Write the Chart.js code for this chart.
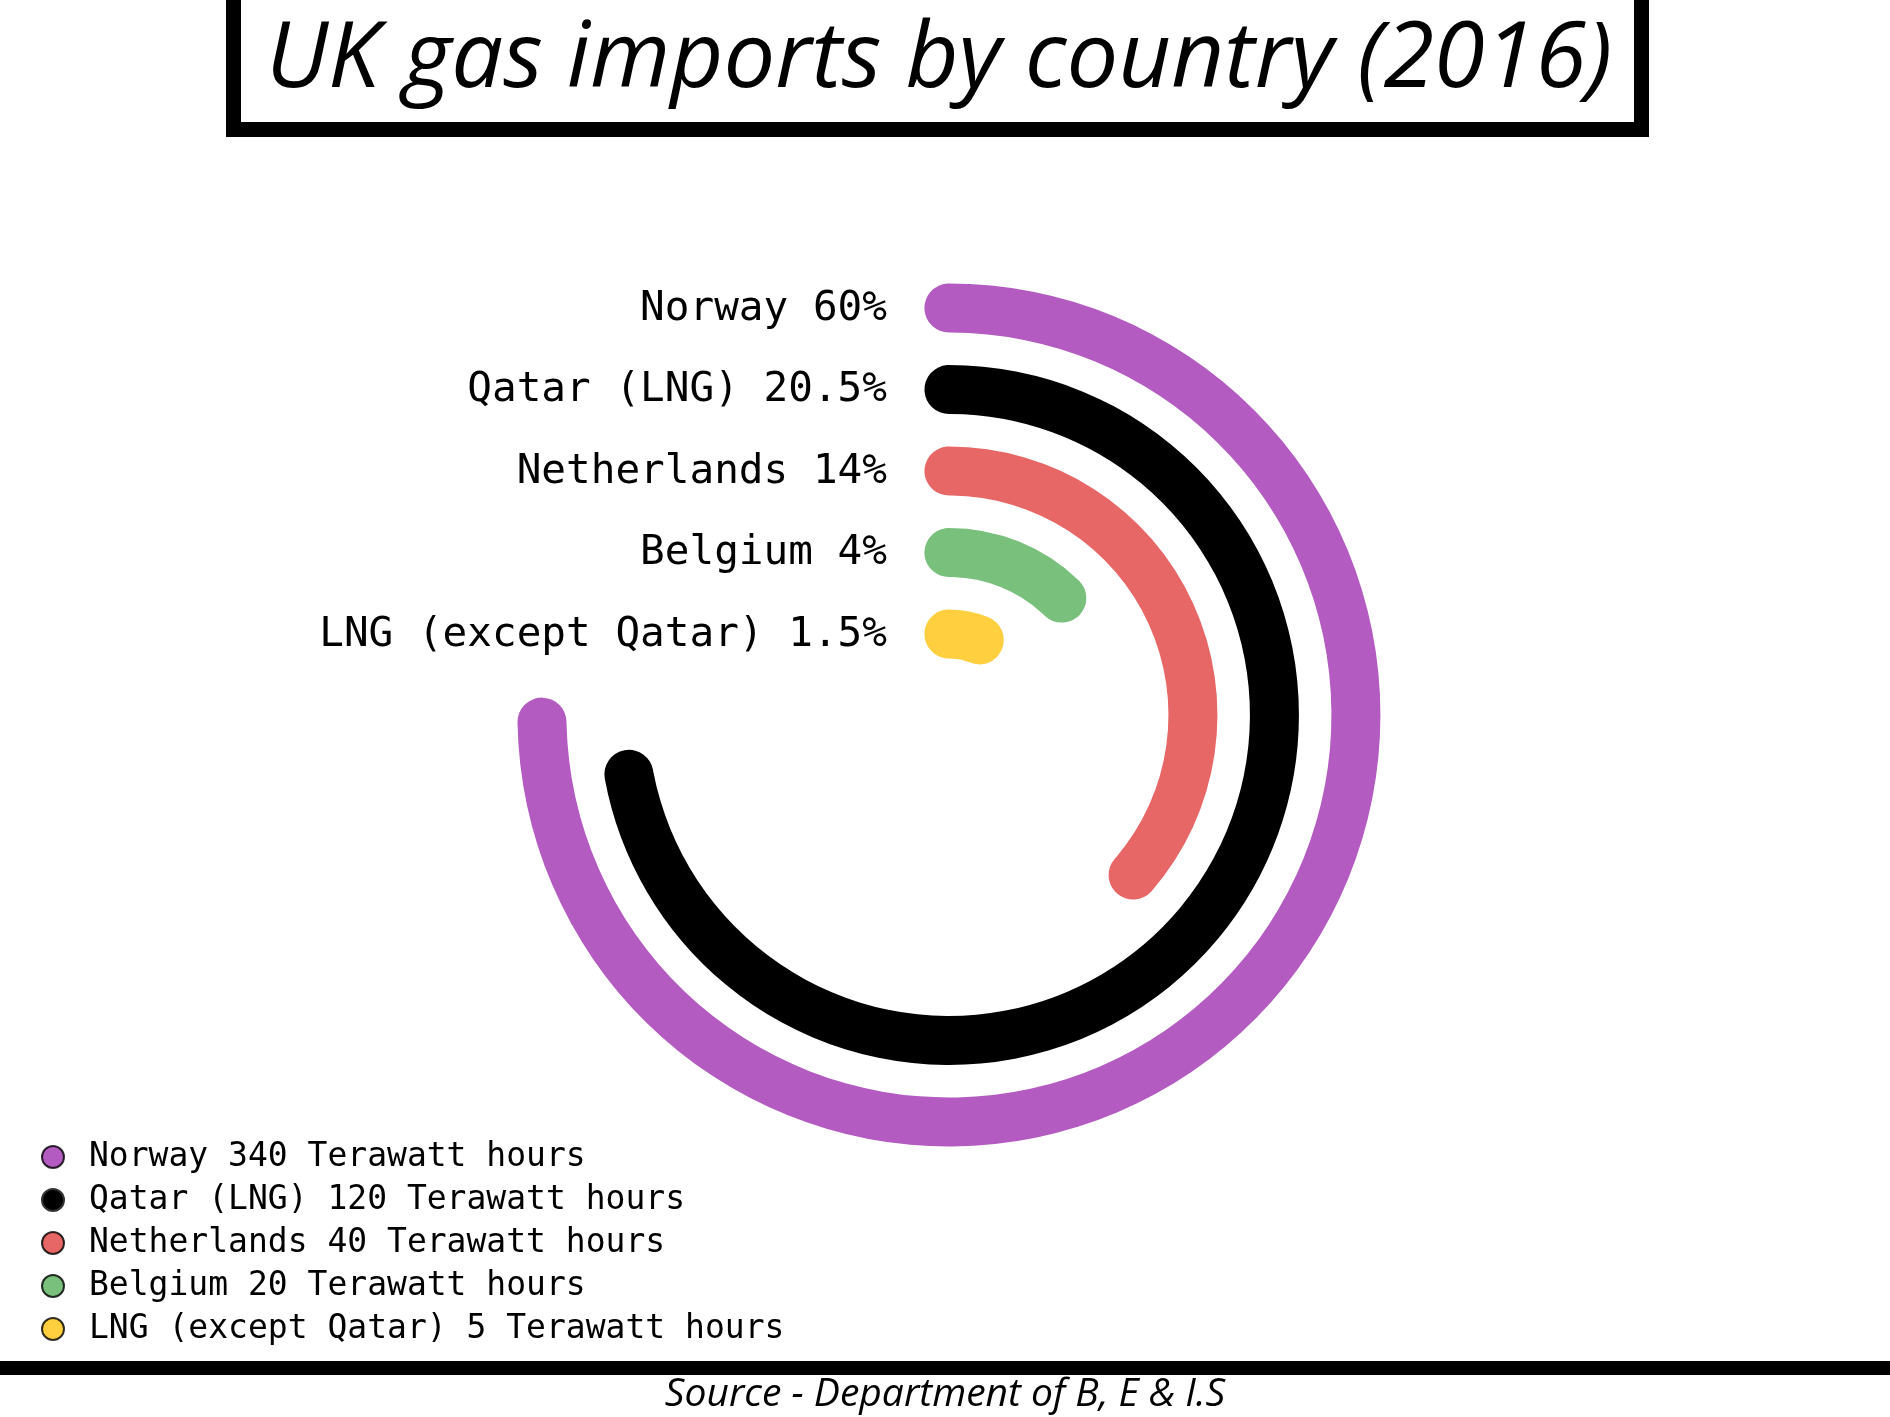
<!DOCTYPE html>
<html>
<head>
<meta charset="utf-8">
<script src="https://cdn.jsdelivr.net/npm/chart.js@4.4.1/dist/chart.umd.min.js"></script>
<style>
  html, body { margin:0; padding:0; background:#fff; width:1890px; height:1417px; overflow:hidden; position:relative; }
  #c { position:absolute; left:0; top:0; }
  #titleBox { position:absolute; left:226px; top:-15px; width:1423px; height:152px; box-sizing:border-box; border:15px solid #000; background:transparent; }
  .txt { position:absolute; white-space:nowrap; font-family:"Open Sans", "Noto Sans", sans-serif; font-style:italic; color:#000; transform-origin:center center; }
  #title { font-size:92px; line-height:92px; top:6px; left:939px; }
  #rule { position:absolute; left:0; top:1361px; width:1890px; height:14px; background:#000; }
  #source { font-size:39px; line-height:39px; top:1371px; left:945px; }
</style>
</head>
<body>
<canvas id="c" width="1890" height="1417"></canvas>
<div id="titleBox"></div>
<div id="title" class="txt">UK gas imports by country (2016)</div>
<div id="rule"></div>
<div id="source" class="txt">Source - Department of B, E &amp; I.S</div>
<script>
// ---- data ----
const categories = ['Norway', 'Qatar (LNG)', 'Netherlands', 'Belgium', 'LNG (except Qatar)'];
const terawattHours = [340, 120, 40, 20, 5];
const sharePercent = ['60', '20.5', '14', '4', '1.5'];
// arc length of each ring as drawn in the picture (degrees, from 12 o'clock, cap centre to cap centre)
const arcSweepDeg = [269, 259.5, 131, 44, 22];
const colours = ['#b35bc1', '#000000', '#e76766', '#78c07b', '#ffcf40'];

// ---- ring geometry (styles) ----
const RADIUS = 431.5, RING = 49, GAP = 32.5;
const innerPx = RADIUS - categories.length * RING - (categories.length - 1) * GAP;

const datasets = [];
categories.forEach((c, i) => {
  const rc = RADIUS - RING / 2 - i * (RING + GAP);
  const capDeg = (RING / 2) / rc * 180 / Math.PI;
  const span = arcSweepDeg[i] + 2 * capDeg;
  if (i > 0) {
    datasets.push({ label: '_gap', data: [1], backgroundColor: 'rgba(0,0,0,0)', borderWidth: 0, weight: GAP });
  }
  datasets.push({
    label: c,
    catIndex: i,
    data: [span, 360 - span],
    backgroundColor: [colours[i], 'rgba(0,0,0,0)'],
    borderWidth: 0,
    borderRadius: RING / 2,
    rotation: -capDeg,
    circumference: 360,
    weight: RING
  });
});

function dot(colour) {
  const cv = document.createElement('canvas');
  cv.width = 28; cv.height = 28;
  const g = cv.getContext('2d');
  g.beginPath(); g.arc(14, 14, 11, 0, Math.PI * 2);
  g.fillStyle = colour; g.fill();
  g.lineWidth = 2; g.strokeStyle = colour === '#000000' ? '#333' : 'rgba(0,0,0,0.8)'; g.stroke();
  return cv;
}
const dots = colours.map(dot);

const ringLabels = {
  id: 'ringLabels',
  afterDatasetsDraw(chart) {
    const ctx = chart.ctx;
    ctx.save();
    ctx.font = '41px "DejaVu Sans Mono"';
    ctx.fillStyle = '#000';
    ctx.textAlign = 'right';
    ctx.textBaseline = 'middle';
    chart.data.datasets.forEach((ds, di) => {
      if (ds.catIndex === undefined) return;
      const arc = chart.getDatasetMeta(di).data[0];
      const y = arc.y - (arc.outerRadius + arc.innerRadius) / 2;
      ctx.fillText(categories[ds.catIndex] + ' ' + sharePercent[ds.catIndex] + '%', arc.x - 62, y + 1);
    });
    ctx.restore();
  }
};

new Chart(document.getElementById('c'), {
  type: 'doughnut',
  data: { labels: ['value', 'rest'], datasets },
  options: {
    responsive: false,
    animation: false,
    events: [],
    radius: RADIUS,
    cutout: (innerPx / RADIUS * 100) + '%',
    layout: { padding: { top: 74.5, bottom: 61.5, left: 23.5, right: 786.5 } },
    plugins: {
      tooltip: { enabled: false },
      legend: {
        position: 'left',
        align: 'end',
        maxWidth: 771,
        onClick: null,
        labels: {
          font: { family: 'DejaVu Sans Mono', size: 33 },
          color: '#000',
          usePointStyle: true,
          pointStyleWidth: 39,
          boxHeight: 20,
          padding: 10,
          generateLabels: () => categories.map((c, i) => ({
            text: c + ' ' + terawattHours[i] + ' Terawatt hours',
            pointStyle: dots[i],
            fillStyle: colours[i],
            strokeStyle: colours[i],
            lineWidth: 0,
            hidden: false,
            fontColor: '#000'
          }))
        }
      }
    }
  },
  plugins: [ringLabels]
});

// fit italic HTML texts to the widths seen in the picture
function fit(id, width) {
  const el = document.getElementById(id);
  const w = el.getBoundingClientRect().width;
  el.style.transform = 'translateX(-50%) scaleX(' + (width / w) + ')';
}
function fitAll() { fit('title', 1364); fit('source', 572); }
fitAll();
if (document.fonts && document.fonts.ready) document.fonts.ready.then(fitAll);
</script>
</body>
</html>
